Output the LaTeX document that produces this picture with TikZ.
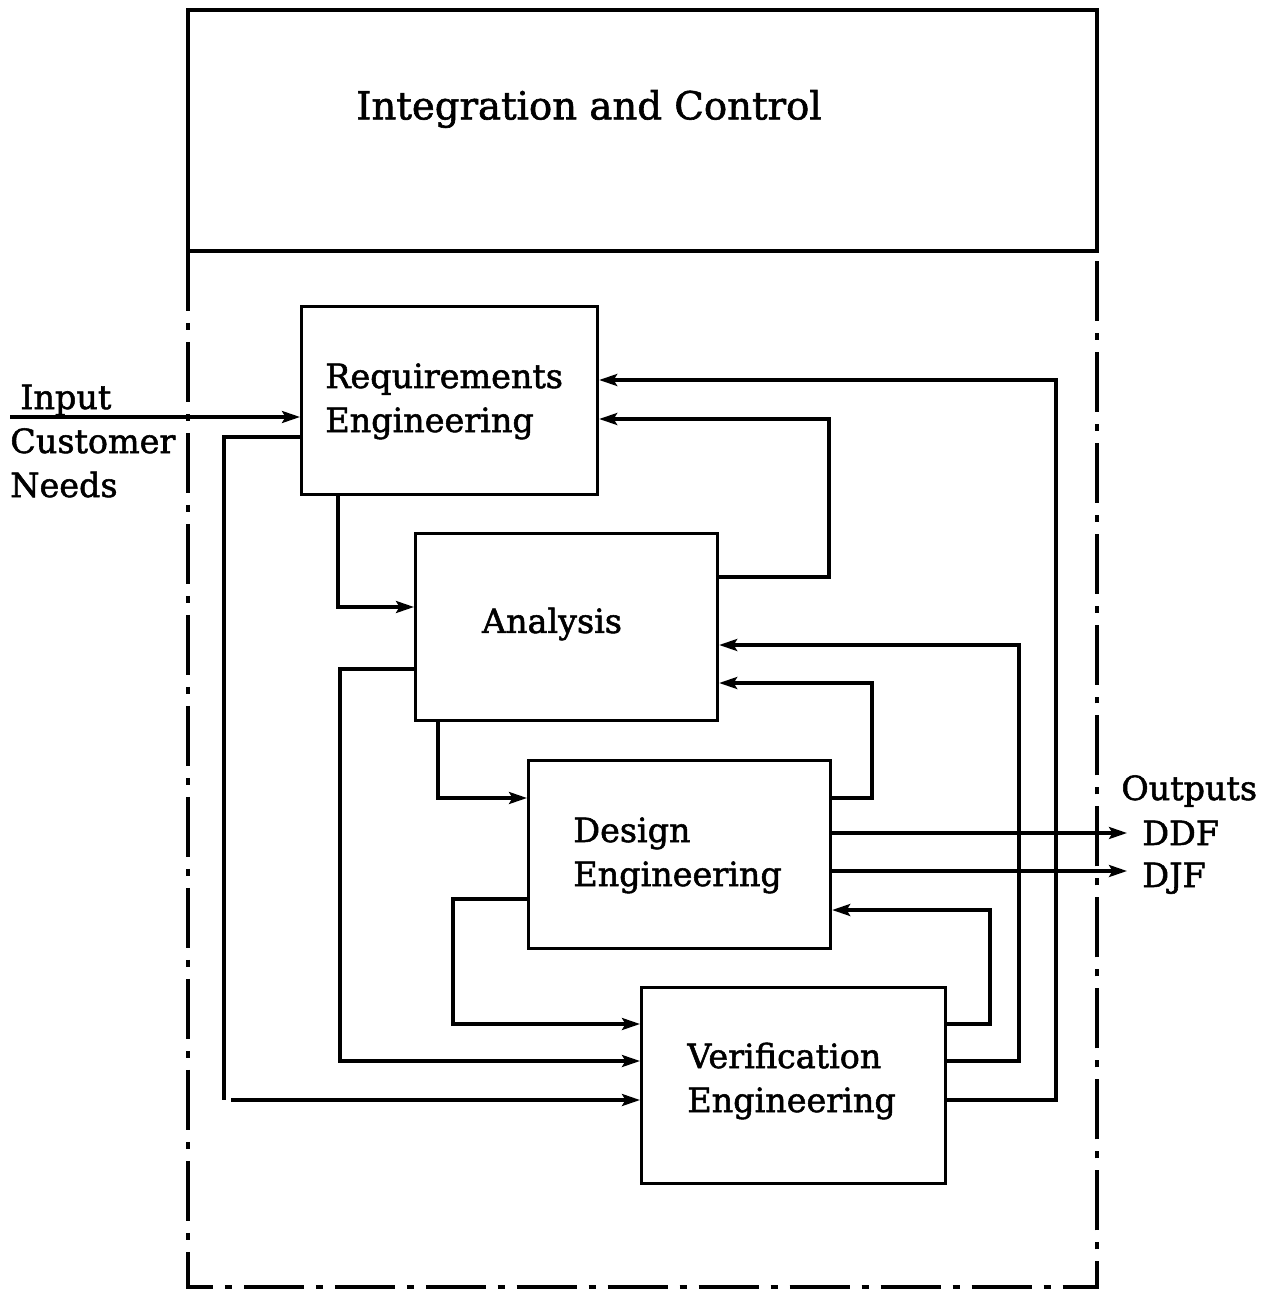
\documentclass[tikz,border=0pt]{standalone}
\usepackage{fontspec}
\setmainfont{DejaVu Serif}[FakeBold=1.6]
\usetikzlibrary{arrows.meta}
\begin{document}
\begin{tikzpicture}[x=0.02cm,y=-0.02cm,
  every node/.style={font=\fontsize{19}{25}\selectfont, inner sep=0pt},
  blockbox/.style={draw, line width=1.8pt, inner sep=0pt, anchor=north west},
  frame/.style={line width=2.1pt},
  dashdot/.style={line width=2.1pt, dash pattern=on 1.2cm off 0.24cm on 0.14cm off 0.24cm},
  flow/.style={line width=1.8pt, -{Stealth[length=0.36cm, width=0.24cm, inset=0.07cm]}},
  wire/.style={line width=1.8pt},
  lbl/.style={anchor=base west, align=left}]
\useasboundingbox (0,0) rectangle (1272,1290);

% integration and control frame
\draw[frame] (188,251) -- (188,10) -- (1097,10) -- (1097,251) -- cycle;
\node[font=\fontsize{22}{26}\selectfont] (ic) at (589,109) {Integration and Control};
\draw[dashdot] (188,251) -- (188,1287) -- (1097,1287) -- (1097,251);

% process blocks
\node[blockbox, minimum width=296*0.02cm, minimum height=188*0.02cm] (req) at (300,305) {};
\node[lbl] (reqT1) at (325,388) {Requirements};
\node[lbl] (reqT2) at (325,432) {Engineering};

\node[blockbox, minimum width=302*0.02cm, minimum height=187*0.02cm] (ana) at (414,532) {};
\node (anaT) at (552,624) {Analysis};

\node[blockbox, minimum width=302*0.02cm, minimum height=188*0.02cm] (des) at (527,759) {};
\node[lbl] (desT1) at (573,842) {Design};
\node[lbl] (desT2) at (573,886) {Engineering};

\node[blockbox, minimum width=304*0.02cm, minimum height=196*0.02cm] (ver) at (640,986) {};
\node[lbl] (verT1) at (687,1068) {Verification};
\node[lbl] (verT2) at (687,1112) {Engineering};

% external labels
\node[lbl] (inp) at (20,409) {Input};
\node[lbl] (cust) at (10,453) {Customer};
\node[lbl] (needs) at (10,497) {Needs};
\node[lbl] (outs) at (1121,800) {Outputs};
\node[lbl] (ddf) at (1142,845) {DDF};
\node[lbl] (djf) at (1142,887) {DJF};
\coordinate (inStart) at (10,417);
\coordinate (ddfEnd) at (1127,833);
\coordinate (djfEnd) at (1127,871);

% input and outputs
\draw[flow] (inStart) -- (req.west |- inStart);
\draw[flow] (des.east |- ddfEnd) -- (ddfEnd);
\draw[flow] (des.east |- djfEnd) -- (djfEnd);

% forward flows
\draw[flow] (338,493) -- (338,607) -- (ana.west |- 0,607);
\draw[flow] (438,719) -- (438,798) -- (des.west |- 0,798);
\draw[flow] (des.west |- 0,899) -- (453,899) -- (453,1024) -- (ver.west |- 0,1024);
\draw[flow] (ana.west |- 0,669) -- (340,669) -- (340,1061) -- (ver.west |- 0,1061);
\draw[wire] (req.west |- 0,437) -- (224,437) -- (224,1100);
\draw[flow] (231,1100) -- (ver.west |- 0,1100);

% feedback flows
\draw[flow] (ana.east |- 0,577) -- (829,577) -- (829,419) -- (req.east |- 0,419);
\draw[flow] (ver.east |- 0,1100) -- (1056,1100) -- (1056,380) -- (req.east |- 0,380);
\draw[flow] (des.east |- 0,798) -- (872,798) -- (872,683) -- (ana.east |- 0,683);
\draw[flow] (ver.east |- 0,1061) -- (1019,1061) -- (1019,645) -- (ana.east |- 0,645);
\draw[flow] (ver.east |- 0,1024) -- (990,1024) -- (990,910) -- (des.east |- 0,910);
\end{tikzpicture}
\end{document}
